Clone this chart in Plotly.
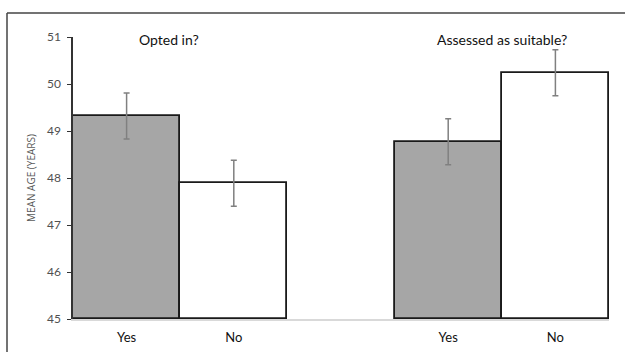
import plotly.graph_objects as go

# Mean age by response, two questions side by side
groups = ["Opted in?", "Assessed as suitable?"]
answers = ["Yes", "No"]
mean_age = [[49.32, 47.89], [48.77, 50.24]]
ci_half = [[0.49, 0.49], [0.49, 0.49]]
bar_fill = {"Yes": "#a6a6a6", "No": "#ffffff"}

y_ticks = [45, 46, 47, 48, 49, 50, 51]

fig = go.Figure()

tick_pos, tick_txt = [], []
for gi, grp in enumerate(groups):
    for ai, ans in enumerate(answers):
        pos = gi * (len(answers) + 1) + ai
        tick_pos.append(pos)
        tick_txt.append(ans)
        fig.add_trace(go.Bar(
            x=[pos],
            y=[mean_age[gi][ai] - y_ticks[0]],
            base=y_ticks[0],
            width=1.0,
            marker=dict(color=bar_fill[ans], line=dict(color="#1a1a1a", width=1.8)),
            error_y=dict(type="data", array=[ci_half[gi][ai]], color="#808080",
                         thickness=1.5, width=3),
            showlegend=False,
            hoverinfo="skip",
        ))
    centre = gi * (len(answers) + 1) + (len(answers) - 1) / 2
    fig.add_annotation(
        x=centre, y=1.0, xref="x", yref="paper",
        text=grp, showarrow=False, yanchor="middle", yshift=-2,
        xshift=-11 if gi == 0 else 0,
        font=dict(family="Lato", size=14, color="#111111"),
    )

n_slots = len(groups) * (len(answers) + 1) - 1

fig.update_layout(
    width=625, height=352,
    margin=dict(l=73, r=16, t=37, b=33),
    paper_bgcolor="white", plot_bgcolor="white",
    bargap=0,
    font=dict(family="Lato"),
    xaxis=dict(
        range=[-0.5, n_slots - 0.5],
        tickmode="array", tickvals=tick_pos, ticktext=tick_txt,
        showgrid=False, zeroline=False, automargin=False,
        showline=True, linecolor="#d9d9d9", linewidth=1.5,
        ticks="", ticklabelstandoff=6,
        tickfont=dict(family="Lato", size=13, color="#111111"),
    ),
    yaxis=dict(
        range=[y_ticks[0], y_ticks[-1]],
        tickmode="array", tickvals=y_ticks,
        showgrid=False, zeroline=False, automargin=False,
        showline=True, linecolor="#333333", linewidth=1.5,
        ticks="outside", ticklen=4, tickcolor="#333333", tickwidth=1.2,
        ticklabelstandoff=4,
        tickfont=dict(family="Lato", size=12, color="#505050"),
        title=dict(text="MEAN AGE (YEARS)", standoff=9,
                   font=dict(family="Open Sans", size=10, color="#595959")),
    ),
)

# Outer frame (top and left edges)
fig.add_shape(type="line", xref="paper", yref="paper",
              x0=-66 / 536, x1=1.1, y0=1 + 24 / 282, y1=1 + 24 / 282,
              line=dict(color="#444444", width=1.5))
fig.add_shape(type="line", xref="paper", yref="paper",
              x0=-66 / 536, x1=-66 / 536, y0=1 + 24 / 282, y1=-0.2,
              line=dict(color="#444444", width=1.5))

fig.write_html("out.html")
